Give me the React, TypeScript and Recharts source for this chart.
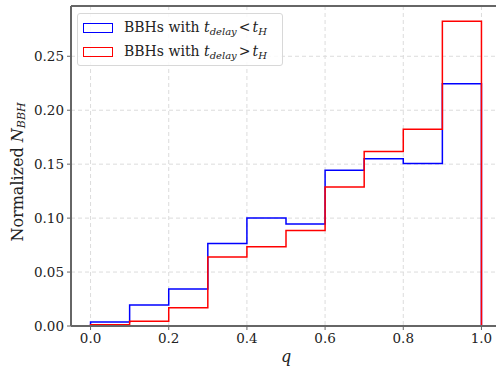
import React from 'react'
import { LineChart, Line, XAxis, YAxis, CartesianGrid, ReferenceLine } from 'recharts'

// bin edges of the mass-ratio histogram
const EDGES = [0, 0.1, 0.2, 0.3, 0.4, 0.5, 0.6, 0.7, 0.8, 0.9, 1.0]
// normalized counts per bin
const SHORT_DELAY = [0.0037, 0.0195, 0.0344, 0.0765, 0.1002, 0.0945, 0.1443, 0.1551, 0.1506, 0.2245]
const LONG_DELAY = [0.0011, 0.0043, 0.0170, 0.0640, 0.0734, 0.0886, 0.1288, 0.1618, 0.1824, 0.2825]

const X_TICKS = [0, 0.2, 0.4, 0.6, 0.8, 1.0]
const Y_TICKS = [0, 0.05, 0.1, 0.15, 0.2, 0.25]
const Y_MAX = 0.2966

const FONT = '"DejaVu Serif", serif'
const BLUE = '#0000ff'
const RED = '#ff0000'

// step outline: rise at the first edge, one row per left edge, close at the last edge
const rows = [
  { q: EDGES[0], short: 0, long: 0 },
  ...SHORT_DELAY.map((v, i) => ({ q: EDGES[i], short: v, long: LONG_DELAY[i] })),
  { q: EDGES[10], short: SHORT_DELAY[9], long: LONG_DELAY[9] },
  { q: EDGES[10], short: 0, long: 0 },
]

const tickStyle = { fill: '#222', fontSize: 13.5, style: { fontFamily: FONT } }

function DelayLabel({ sign }: { sign: string }) {
  return (
    <span>
      BBHs with <i>t</i>
      <sub style={{ fontSize: 10, fontStyle: 'italic', verticalAlign: '-3px' }}>delay</sub>
      <span style={{ margin: '0 2px' }}>{sign}</span>
      <i>t</i>
      <sub style={{ fontSize: 10, fontStyle: 'italic', verticalAlign: '-3px' }}>H</sub>
    </span>
  )
}

function LegendBox() {
  const item = (color: string, sign: string) => (
    <div style={{ display: 'flex', alignItems: 'center', height: 24 }}>
      <div style={{ width: 28, height: 8, border: `1.5px solid ${color}`, marginRight: 11 }} />
      <DelayLabel sign={sign} />
    </div>
  )
  return (
    <div
      style={{
        position: 'absolute',
        left: 77,
        top: 13,
        boxSizing: 'border-box',
        width: 206,
        height: 53,
        border: '1px solid #d8d8d8',
        borderRadius: 3,
        background: 'rgba(255,255,255,0.85)',
        padding: '2px 6px 2px 5px',
        fontFamily: FONT,
        fontSize: 14,
        color: '#222',
        whiteSpace: 'nowrap',
      }}
    >
      {item(BLUE, '<')}
      {item(RED, '>')}
    </div>
  )
}

function YTitle(props: any) {
  const { viewBox } = props
  const cx = 17
  const cy = viewBox.y + viewBox.height / 2 + 6
  return (
    <text
      x={cx}
      y={cy}
      transform={`rotate(-90 ${cx} ${cy})`}
      textAnchor="middle"
      dominantBaseline="central"
      style={{ fontFamily: FONT }}
      fontSize={16}
      fill="#222"
    >
      Normalized <tspan fontStyle="italic">N</tspan>
      <tspan fontStyle="italic" fontSize={11} dy={4}>BBH</tspan>
    </text>
  )
}

export default function App() {
  return (
    <div style={{ position: 'absolute', left: 0, top: 0, width: 496, height: 371, overflow: 'hidden', background: '#fff', fontFamily: FONT }}>
      <LineChart width={501} height={371} data={rows} margin={{ top: 6, right: 0, bottom: 0, left: 0 }} style={{ fontFamily: FONT }}>
        <CartesianGrid stroke="#dcdcdc" strokeDasharray="4 3" horizontalValues={Y_TICKS} verticalValues={X_TICKS} />
        <XAxis
          type="number"
          dataKey="q"
          domain={[-0.05, 1.05]}
          ticks={X_TICKS}
          tickFormatter={(v: number) => v.toFixed(1)}
          height={45}
          tick={tickStyle}
          tickSize={4}
          tickMargin={3}
          axisLine={{ stroke: '#666', strokeWidth: 2 }}
          tickLine={{ stroke: '#666' }}
          label={{ value: 'q', position: 'insideBottom', offset: 9, style: { fontFamily: FONT }, fontSize: 16, fontStyle: 'italic', fill: '#222' }}
        />
        <YAxis
          type="number"
          domain={[0, Y_MAX]}
          ticks={Y_TICKS}
          tickFormatter={(v: number) => v.toFixed(2)}
          width={71}
          tick={tickStyle}
          tickSize={4}
          tickMargin={3}
          allowDataOverflow
          axisLine={{ stroke: '#666', strokeWidth: 2 }}
          tickLine={{ stroke: '#666' }}
          label={{ content: YTitle }}
        />
        <ReferenceLine y={Y_MAX} stroke="#666" strokeWidth={2} />
        <Line
          dataKey="short"
          type="stepAfter"
          stroke={BLUE}
          strokeWidth={1.5}
          dot={false}
          activeDot={false}
          isAnimationActive={false}
        />
        <Line
          dataKey="long"
          type="stepAfter"
          stroke={RED}
          strokeWidth={1.5}
          dot={false}
          activeDot={false}
          isAnimationActive={false}
        />
      </LineChart>
      <LegendBox />
    </div>
  )
}
